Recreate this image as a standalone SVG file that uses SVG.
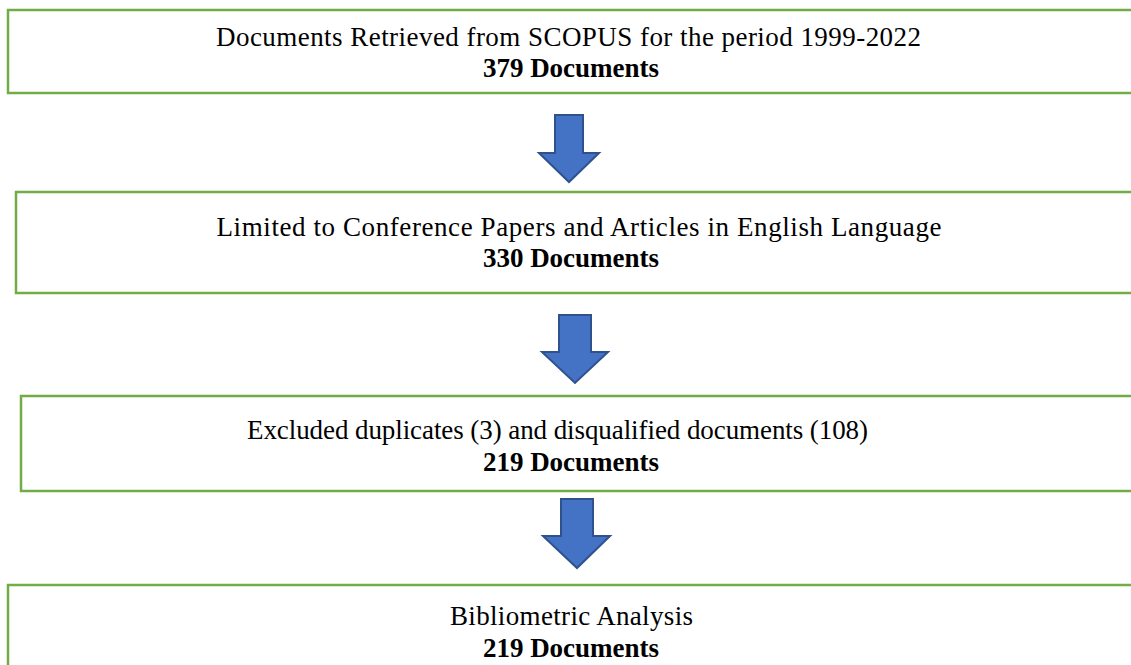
<svg xmlns="http://www.w3.org/2000/svg" width="1131" height="665" viewBox="0 0 1131 665">
<style>
.box{fill:#fff;stroke:#70AD47;stroke-width:2.5}
.t{font-family:"Liberation Serif","Times New Roman",serif;font-size:27px;fill:#000;text-anchor:middle}
.b{font-weight:bold}
.arr{fill:#4472C4;stroke:#2F528F;stroke-width:2;stroke-linejoin:miter}
</style>
<rect width="1131" height="665" fill="#fff"/>
<g id="n1">
<rect class="box" x="8" y="10" width="1130" height="83"/>
<text class="t" x="568.5" y="46" textLength="705" lengthAdjust="spacing">Documents Retrieved from SCOPUS for the period 1999-2022</text>
<text class="t b" x="571" y="77">379 Documents</text>
</g>
<g id="n2">
<rect class="box" x="16" y="192" width="1130" height="101"/>
<text class="t" x="579" y="236" textLength="725" lengthAdjust="spacing">Limited to Conference Papers and Articles in English Language</text>
<text class="t b" x="571" y="267">330 Documents</text>
</g>
<g id="n3">
<rect class="box" x="21" y="396" width="1130" height="95"/>
<text class="t" x="557.5" y="439" textLength="621" lengthAdjust="spacing">Excluded duplicates (3) and disqualified documents (108)</text>
<text class="t b" x="571" y="471">219 Documents</text>
</g>
<g id="n4">
<rect class="box" x="8" y="585" width="1130" height="95"/>
<text class="t" x="571.5" y="625" textLength="243" lengthAdjust="spacing">Bibliometric Analysis</text>
<text class="t b" x="571" y="657">219 Documents</text>
</g>
<g id="connectors">
<polygon class="arr" points="555,115 583,115 583,153 599,153 569,182 539,153 555,153"/>
<polygon class="arr" points="559,315 591,315 591,352 608,352 575,383 542,352 559,352"/>
<polygon class="arr" points="561,499 593,499 593,536 610,536 577,568 543,536 561,536"/>
</g>
</svg>
